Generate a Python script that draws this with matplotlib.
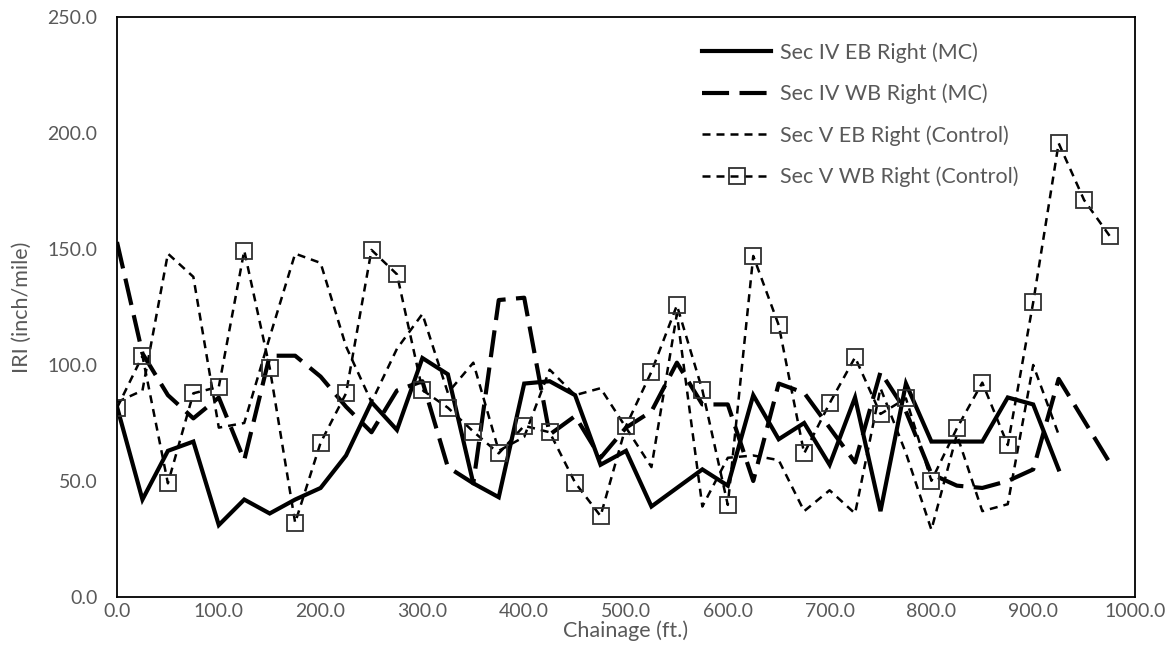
import matplotlib
matplotlib.use("Agg")
import matplotlib.pyplot as plt
import numpy as np

# Chainage stations (ft.)
chainage = list(range(0, 1000, 25))

sec4_eb_mc = [82, 42, 63, 67, 31, 42, 36, 42, 47, 61, 84, 72, 103, 96, 49, 43,
              92, 93, 87, 57, 63, 39, 47, 55, 48, 87, 68, 75, 57, 86, 37, 92,
              67, 67, 67, 86, 83, 55]
sec4_wb_mc = [153, 105, 87, 77, 86, 59, 104, 104, 95, 82, 71, 89, 93, 56, 49, 128,
              129, 70, 78, 60, 73, 80, 101, 83, 83, 50, 92, 88, 73, 58, 97, 80,
              53, 48, 47, 50, 55, 94, 76, 58]
sec5_eb_ctrl = [84, 89, 148, 138, 73, 75, 112, 148, 144, 108, 84, 107, 122, 88, 101, 63,
                69, 98, 87, 90, 73, 56, 122, 39, 60, 61, 59, 37, 46, 36, 90, 62,
                29, 70, 37, 40, 100, 70]
sec5_wb_ctrl = [81.5, 103.9, 49.0, 87.8, 90.6, 149.3, 98.8, 32.0, 66.5, 87.8,
                149.6, 139.1, 89.2, 81.6, 71.3, 61.9, 73.8, 71.0, 49.3, 34.9,
                73.7, 97.1, 125.7, 89.2, 39.7, 147.0, 117.2, 61.9, 83.5, 103.3,
                78.9, 85.6, 50.1, 72.7, 92.4, 65.5, 127.0, 195.6, 171.1, 155.7]

labels = ["Sec IV EB Right (MC)", "Sec IV WB Right (MC)",
          "Sec V EB Right (Control)", "Sec V WB Right (Control)"]

plt.rcParams['font.family'] = ['Lato', 'DejaVu Sans']
grey = '#595959'

fig = plt.figure(figsize=(11.75, 6.62), dpi=100)
ax = fig.add_axes([117 / 1175, 1 - 597 / 662, (1135 - 117) / 1175, (597 - 17) / 662])

ax.plot(chainage[:len(sec4_eb_mc)], sec4_eb_mc, color='black', lw=3.0,
        solid_joinstyle='miter', label=labels[0])
ax.plot(chainage[:len(sec4_wb_mc)], sec4_wb_mc, color='black', lw=3.0,
        dashes=(6.5, 2.5), label=labels[1])
ax.plot(chainage[:len(sec5_eb_ctrl)], sec5_eb_ctrl, color='black', lw=1.8,
        dashes=(3.2, 2.4), label=labels[2])
ax.plot(chainage[:len(sec5_wb_ctrl)], sec5_wb_ctrl, color='black', lw=1.8,
        dashes=(3.2, 2.4), marker='s', markersize=11, markerfacecolor='none',
        markeredgecolor='#303030', markeredgewidth=1.3, label=labels[3])

ax.set_xlim(0, 1000)
ax.set_ylim(0, 250)
ax.set_xticks(np.arange(0, 1001, 100))
ax.set_yticks(np.arange(0, 251, 50))
ax.xaxis.set_major_formatter(matplotlib.ticker.FormatStrFormatter('%.1f'))
ax.yaxis.set_major_formatter(matplotlib.ticker.FormatStrFormatter('%.1f'))
ax.tick_params(length=0, labelsize=14, labelcolor=grey)
ax.tick_params(axis='x', pad=4)
ax.tick_params(axis='y', pad=14)
for s in ax.spines.values():
    s.set_color('black')
    s.set_linewidth(1.3)

ax.set_xlabel('Chainage (ft.)', fontsize=15.5, color=grey)
ax.xaxis.set_label_coords(0.5, -0.041)
ax.set_ylabel('IRI (inch/mile)', fontsize=15.5, color=grey)
ax.yaxis.set_label_coords(-0.084, 0.5)

leg = ax.legend(loc='upper left', bbox_to_anchor=(0.556, 0.99), frameon=False,
                fontsize=15.5, handlelength=3.2, labelspacing=0.97,
                handletextpad=0.4, labelcolor=grey)

fig.savefig('out.png', dpi=100)
